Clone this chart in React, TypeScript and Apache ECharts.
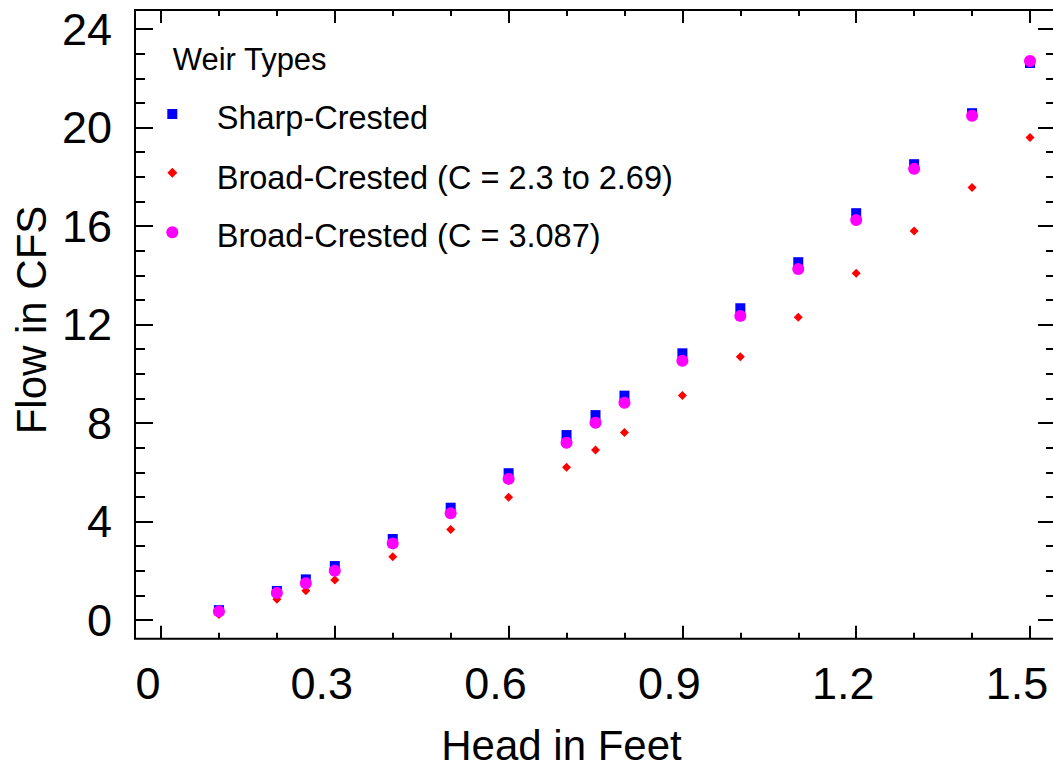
import React, { useEffect, useRef } from "react";
import * as echarts from "echarts";

const headFeet = [0.1, 0.2, 0.25, 0.3, 0.4, 0.5, 0.6, 0.7, 0.75, 0.8, 0.9, 1.0, 1.1, 1.2, 1.3, 1.4, 1.5];
const sharpCrested = [0.4, 1.18, 1.65, 2.19, 3.29, 4.56, 5.96, 7.51, 8.32, 9.11, 10.83, 12.66, 14.53, 16.52, 18.51, 20.58, 22.62];
const broadLow = [0.22, 0.84, 1.19, 1.62, 2.57, 3.68, 4.98, 6.2, 6.9, 7.61, 9.12, 10.69, 12.29, 14.08, 15.8, 17.56, 19.59];
const broad3087 = [0.35, 1.1, 1.49, 2.0, 3.11, 4.33, 5.73, 7.2, 8.01, 8.82, 10.53, 12.35, 14.25, 16.24, 18.32, 20.48, 22.7];
const seriesNames = ["Sharp-Crested", "Broad-Crested (C = 2.3 to 2.69)", "Broad-Crested (C = 3.087)"];
const legendTitle = "Weir Types";
const xTitle = "Head in Feet";
const yTitle = "Flow in CFS";

const FONT = "'Liberation Sans', Arial, Helvetica, sans-serif";

function pairs(ys: number[]) {
  return headFeet.map((x, i) => [x, ys[i]]);
}

export default function App() {
  const ref = useRef<HTMLDivElement>(null);
  useEffect(() => {
    if (!ref.current) return;
    const chart = echarts.init(ref.current, undefined, { renderer: "svg" });
    const tickLabelStyle = { fontFamily: FONT, fontSize: 45, color: "#000" };
    const xCommon = {
      type: "value" as const,
      min: 0,
      max: 1.5,
      interval: 0.3,
      axisLine: { show: false, onZero: false },
      splitLine: { show: false },
      axisTick: { show: true, inside: true, length: 13, lineStyle: { color: "#000", width: 2 } },
      minorTick: { show: true, splitNumber: 3, length: 6, lineStyle: { color: "#000", width: 2 } },
    };
    const yCommon = {
      type: "value" as const,
      min: 0,
      max: 24,
      interval: 4,
      axisLine: { show: false, onZero: false },
      splitLine: { show: false },
      axisTick: { show: true, inside: true, length: 18, lineStyle: { color: "#000", width: 2 } },
      minorTick: { show: true, splitNumber: 4, length: 10, lineStyle: { color: "#000", width: 2 } },
    };
    const legendY = [117.5, 177.5, 236];
    const markerY = [114, 172.7, 232.3];
    const colors = ["#0000FF", "#FF0000", "#FF00FF"];
    chart.setOption({
      animation: false,
      backgroundColor: "#fff",
      grid: { left: 161, right: 23, top: 29, bottom: 147, containLabel: false },
      xAxis: [
        {
          ...xCommon,
          position: "bottom",
          offset: 18.7,
          axisLabel: {
            ...tickLabelStyle,
            margin: 22,
            showMinLabel: true,
            showMaxLabel: true,
            padding: [0, 26, 0, 0],
            formatter: (v: number) => (v === 0 ? "0" : v.toFixed(1)),
          },
        },
        { ...xCommon, position: "top", offset: 19, axisLabel: { show: false } },
      ],
      yAxis: [
        {
          ...yCommon,
          position: "left",
          offset: 26,
          axisLabel: {
            ...tickLabelStyle,
            margin: 23,
            showMinLabel: true,
            showMaxLabel: true,
            padding: [10, 0, 0, 0],
          },
        },
        { ...yCommon, position: "right", offset: 26, axisLabel: { show: false } },
      ],
      series: [
        {
          name: seriesNames[0],
          type: "scatter",
          symbol: "rect",
          symbolSize: 10,
          itemStyle: { color: colors[0], opacity: 1 },
          data: pairs(sharpCrested),
          clip: false,
          z: 2,
        },
        {
          name: seriesNames[1],
          type: "scatter",
          symbol: "diamond",
          symbolSize: 9,
          itemStyle: { color: colors[1], opacity: 1 },
          data: pairs(broadLow),
          clip: false,
          z: 3,
        },
        {
          name: seriesNames[2],
          type: "scatter",
          symbol: "circle",
          symbolSize: 12,
          itemStyle: { color: colors[2], opacity: 1 },
          data: pairs(broad3087),
          clip: false,
          z: 4,
        },
      ],
      graphic: [
        {
          type: "rect",
          shape: { x: 135, y: 10, width: 921, height: 628.7 },
          style: { fill: "none", stroke: "#000", lineWidth: 2 },
          silent: true,
          z: 1,
        },
        {
          type: "text",
          x: 561.5,
          y: 745,
          style: { text: xTitle, font: `42px ${FONT}`, fill: "#000", align: "center", verticalAlign: "middle" },
        },
        {
          type: "text",
          x: 31,
          y: 320,
          rotation: Math.PI / 2,
          style: { text: yTitle, font: `42px ${FONT}`, fill: "#000", align: "center", verticalAlign: "middle" },
        },
        {
          type: "text",
          x: 172.7,
          y: 59.7,
          style: { text: legendTitle, font: `31px ${FONT}`, fill: "#000", align: "left", verticalAlign: "middle" },
        },
        { type: "rect", shape: { x: 167.3, y: markerY[0] - 5, width: 10, height: 10 }, style: { fill: colors[0] } },
        {
          type: "polygon",
          shape: {
            points: [
              [172.3, markerY[1] - 5],
              [177.3, markerY[1]],
              [172.3, markerY[1] + 5],
              [167.3, markerY[1]],
            ],
          },
          style: { fill: colors[1] },
        },
        { type: "circle", shape: { cx: 172.3, cy: markerY[2], r: 6 }, style: { fill: colors[2] } },
        ...seriesNames.map((n, i) => ({
          type: "text",
          x: 216.7,
          y: legendY[i],
          style: { text: n, font: `32.5px ${FONT}`, fill: "#000", align: "left", verticalAlign: "middle" },
        })),
      ],
    });
    return () => chart.dispose();
  }, []);
  return (
    <div
      ref={ref}
      style={{ position: "fixed", left: 0, top: 0, width: 1053, height: 767, background: "#fff" }}
    />
  );
}
